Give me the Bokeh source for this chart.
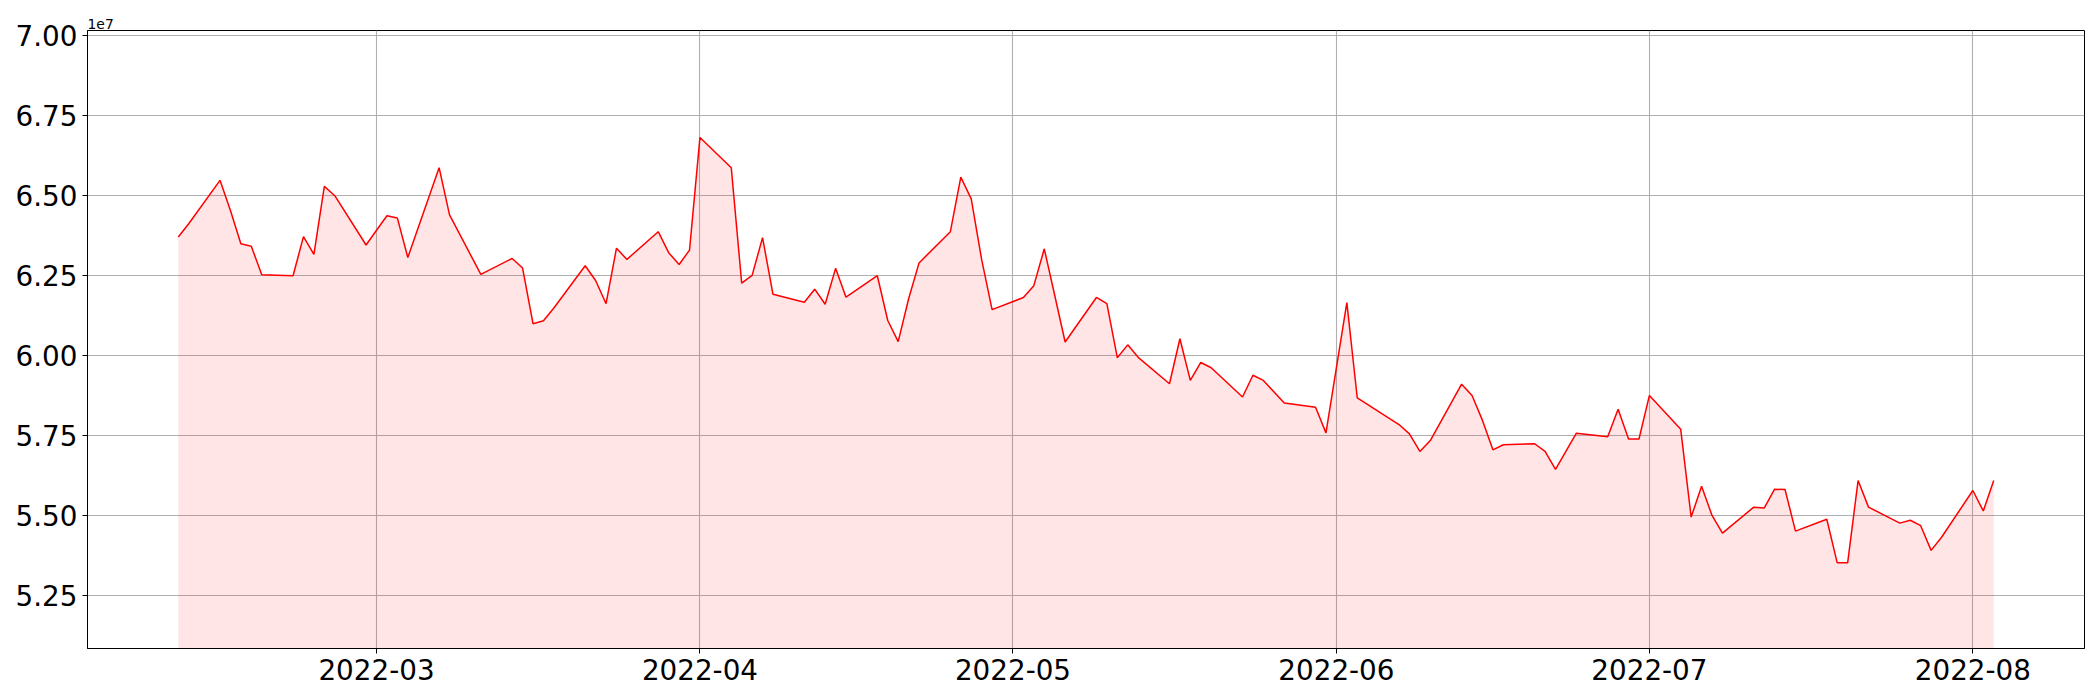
import pandas as pd
from bokeh.plotting import figure
from bokeh.models import (ColumnDataSource, FixedTicker, CustomJSTickFormatter,
                          Range1d)
from bokeh.embed import file_html
from bokeh.resources import INLINE

dates = [
    "2022-02-10", "2022-02-11", "2022-02-14", "2022-02-15", "2022-02-16", "2022-02-17",
    "2022-02-18", "2022-02-21", "2022-02-22", "2022-02-23", "2022-02-24", "2022-02-25",
    "2022-02-28", "2022-03-01", "2022-03-02", "2022-03-03", "2022-03-04", "2022-03-07",
    "2022-03-08", "2022-03-11", "2022-03-14", "2022-03-15", "2022-03-16", "2022-03-17",
    "2022-03-18", "2022-03-21", "2022-03-22", "2022-03-23", "2022-03-24", "2022-03-25",
    "2022-03-28", "2022-03-29", "2022-03-30", "2022-03-31", "2022-04-01", "2022-04-04",
    "2022-04-05", "2022-04-06", "2022-04-07", "2022-04-08", "2022-04-11", "2022-04-12",
    "2022-04-13", "2022-04-14", "2022-04-15", "2022-04-18", "2022-04-19", "2022-04-20",
    "2022-04-21", "2022-04-22", "2022-04-25", "2022-04-26", "2022-04-27", "2022-04-28",
    "2022-04-29", "2022-05-02", "2022-05-03", "2022-05-04", "2022-05-05", "2022-05-06",
    "2022-05-09", "2022-05-10", "2022-05-11", "2022-05-12", "2022-05-13", "2022-05-16",
    "2022-05-17", "2022-05-18", "2022-05-19", "2022-05-20", "2022-05-23", "2022-05-24",
    "2022-05-25", "2022-05-27", "2022-05-30", "2022-05-31", "2022-06-02", "2022-06-03",
    "2022-06-07", "2022-06-08", "2022-06-09", "2022-06-10", "2022-06-13", "2022-06-14",
    "2022-06-15", "2022-06-16", "2022-06-17", "2022-06-20", "2022-06-21", "2022-06-22",
    "2022-06-24", "2022-06-27", "2022-06-28", "2022-06-29", "2022-06-30", "2022-07-01",
    "2022-07-04", "2022-07-05", "2022-07-06", "2022-07-07", "2022-07-08", "2022-07-11",
    "2022-07-12", "2022-07-13", "2022-07-14", "2022-07-15", "2022-07-18", "2022-07-19",
    "2022-07-20", "2022-07-21", "2022-07-22", "2022-07-25", "2022-07-26", "2022-07-27",
    "2022-07-28", "2022-07-29", "2022-08-01", "2022-08-02", "2022-08-03",
]

values = [
    6.371e7, 6.4125e7, 6.548e7, 6.454e7, 6.350e7, 6.342e7,
    6.253e7, 6.250e7, 6.372e7, 6.317e7, 6.529e7, 6.500e7,
    6.346e7, 6.392e7, 6.4375e7, 6.430e7, 6.307e7, 6.5875e7,
    6.440e7, 6.254e7, 6.304e7, 6.274e7, 6.100e7, 6.109e7,
    6.149e7, 6.281e7, 6.235e7, 6.1625e7, 6.336e7, 6.301e7,
    6.3875e7, 6.322e7, 6.285e7, 6.330e7, 6.682e7, 6.5875e7,
    6.227e7, 6.251e7, 6.369e7, 6.192e7, 6.167e7, 6.208e7,
    6.161e7, 6.273e7, 6.183e7, 6.250e7, 6.110e7, 6.044e7,
    6.178e7, 6.290e7, 6.3875e7, 6.558e7, 6.490e7, 6.300e7,
    6.144e7, 6.182e7, 6.219e7, 6.334e7, 6.189e7, 6.043e7,
    6.182e7, 6.1625e7, 5.994e7, 6.034e7, 5.995e7, 5.9125e7,
    6.053e7, 5.923e7, 5.979e7, 5.9625e7, 5.871e7, 5.939e7,
    5.923e7, 5.852e7, 5.839e7, 5.759e7, 6.166e7, 5.868e7,
    5.785e7, 5.756e7, 5.701e7, 5.735e7, 5.911e7, 5.876e7,
    5.798e7, 5.706e7, 5.722e7, 5.725e7, 5.701e7, 5.645e7,
    5.758e7, 5.747e7, 5.833e7, 5.740e7, 5.740e7, 5.876e7,
    5.770e7, 5.496e7, 5.592e7, 5.501e7, 5.446e7, 5.527e7,
    5.524e7, 5.583e7, 5.582e7, 5.452e7, 5.489e7, 5.353e7,
    5.353e7, 5.610e7, 5.527e7, 5.477e7, 5.486e7, 5.469e7,
    5.392e7, 5.433e7, 5.579e7, 5.515e7, 5.610e7,
]

y_ticks = [5.25e7, 5.50e7, 5.75e7, 6.00e7, 6.25e7, 6.50e7, 6.75e7, 7.00e7]
x_tick_dates = ["2022-03-01", "2022-04-01", "2022-05-01", "2022-06-01", "2022-07-01", "2022-08-01"]
offset_text = "1e7"

FONT = "DejaVu Sans"

x = pd.to_datetime(dates)
src = ColumnDataSource(data=dict(x=x, y=values))

# axis limits like matplotlib: 5% x margin, y from 0.95*min to 1.05*max
x_ms = x.astype("int64") // 10**6
span = x_ms.max() - x_ms.min()
x_start = float(x_ms.min() - 0.05 * span)
x_end = float(x_ms.max() + 0.05 * span)
y_start = min(values) * 0.95
y_end = max(values) * 1.05

p = figure(width=2100, height=700, output_backend="svg", toolbar_location=None,
           x_axis_type="datetime",
           x_range=Range1d(x_start, x_end), y_range=Range1d(y_start, y_end),
           min_border_left=87, min_border_right=16, min_border_top=30, min_border_bottom=52)

p.title.text = offset_text
p.title.align = "left"
p.title.text_font = FONT
p.title.text_font_size = "13.9px"
p.title.text_font_style = "normal"
p.title.text_color = "black"
p.title.standoff = 4
p.title.offset = 0

p.varea(x="x", y1=0, y2="y", source=src, fill_color="red", fill_alpha=0.1)
p.line(x="x", y="y", source=src, line_color="red", line_width=1.5)

# ticks
tick_ms = [float(pd.Timestamp(d).value // 10**6) for d in x_tick_dates]
p.xaxis.ticker = FixedTicker(ticks=tick_ms)
p.xaxis.formatter = CustomJSTickFormatter(code="""
const d = new Date(tick);
return d.getUTCFullYear() + '-' + String(d.getUTCMonth() + 1).padStart(2, '0');
""")
p.yaxis.ticker = FixedTicker(ticks=y_ticks)
p.yaxis.formatter = CustomJSTickFormatter(code="return (tick / 1e7).toFixed(2);")

for ax in (p.xaxis, p.yaxis):
    ax.major_label_text_font = FONT
    ax.major_label_text_font_size = "27.8px"
    ax.major_label_text_color = "black"
    ax.major_tick_out = 5
    ax.major_tick_in = 0
    ax.major_tick_line_color = "black"
    ax.major_tick_line_width = 1
    ax.minor_tick_line_color = None
    ax.axis_line_color = "black"
    ax.axis_line_width = 1
    ax.major_label_standoff = 5

p.grid.grid_line_color = "#b0b0b0"
p.grid.grid_line_width = 1.1
p.outline_line_color = "black"
p.outline_line_width = 1
p.outline_line_alpha = 1
p.background_fill_color = "white"
p.border_fill_color = "white"

open("out.html", "w").write(file_html(p, INLINE))
